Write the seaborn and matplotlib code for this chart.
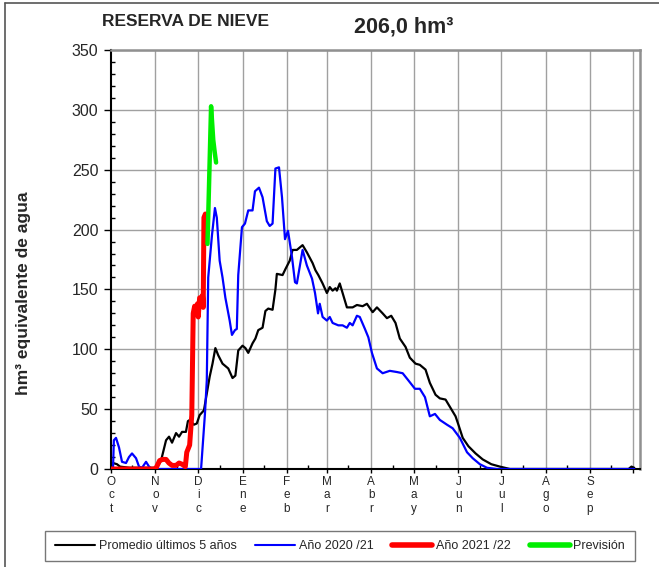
import matplotlib
matplotlib.use("Agg")
import matplotlib.pyplot as plt
import seaborn as sns
import pandas as pd
from matplotlib.lines import Line2D
from matplotlib.ticker import FixedLocator, MultipleLocator

# ---------------- data (day index from 1 Oct, value in hm3) ----------------
black_days = [0, 1.4, 4.2, 6.3, 13, 20, 27, 32, 35, 38.5, 40.6, 42.7, 45.5, 47.6, 49.7,
              52.4, 53.8, 55.2, 58, 60, 62, 65, 67, 69, 71, 73, 75, 78, 82, 85, 87, 89,
              92, 94, 96, 99, 101, 103, 106, 108, 110, 113, 115, 116, 120, 122, 125, 127,
              130, 132, 134, 137, 141, 143, 145, 148, 151, 153, 155, 157, 158, 160, 162,
              165, 169, 172, 176, 179, 183, 186, 190, 193, 196, 199, 202, 206, 209, 213,
              216, 220, 223, 227, 230, 234, 237, 241, 243, 246, 250, 255, 260, 266, 272,
              279, 362, 364, 366]
black_vals = [0, 5, 4, 2, 1, 1, 1, 1, 7, 24, 27, 22, 30, 27, 31,
              31, 40, 41, 37, 38, 45, 49, 63, 77, 88, 101, 95, 88, 84, 76, 78, 99,
              103, 101, 97, 105, 109, 116, 118, 132, 134, 133, 150, 163, 162, 167, 174, 183,
              183, 185, 187, 181, 172, 166, 162, 155, 147, 152, 149, 151, 149, 155, 147,
              135, 135, 137, 136, 138, 131, 135, 130, 126, 128, 122, 109, 102, 93, 88,
              87, 83, 72, 62, 59, 58, 52, 44, 37, 26, 19, 13, 8, 4, 2,
              0, 0, 2, 1]

blue_days = [0, 1.4, 2, 3.5, 5.6, 7.7, 10.5, 12.6, 14.7, 17.5, 19.6, 21.7, 24.5, 26.6,
             28.7, 63, 65.7, 67, 68, 70.6, 72.7, 74, 76, 78, 80, 83, 84.6, 86.7, 88, 89,
             91.6, 93.7, 96, 99, 100.7, 103.5, 106, 109, 111, 113, 115, 117.5, 119.6,
             121.7, 123.8, 126.6, 128.7, 130, 132, 134, 137, 140.6, 142.7, 144.8, 146,
             148, 151, 153, 155, 159, 162, 165, 167, 169, 172, 174, 177.6, 180, 182.5,
             186, 190, 195, 200, 204, 208, 212.6, 216, 219.6, 223, 226.6, 230, 235, 239,
             244, 249, 253, 258, 263, 270, 366]
blue_vals = [0, 0, 24, 26, 18, 6, 5, 10, 13, 9, 2, 1, 6, 2,
             0, 0, 46, 74, 160, 195, 218, 210, 174, 160, 143, 124, 112, 116, 117, 162,
             202, 205, 216, 216, 232, 235, 227, 207, 203, 205, 251, 252, 227,
             192, 199, 177, 156, 155, 169, 183, 170, 159, 147, 130, 138,
             127, 124, 127, 122, 120, 120, 118, 122, 120, 128, 127, 117, 110, 97,
             84, 80, 82, 81, 80, 74, 67, 67, 60, 44, 46, 41, 37, 34,
             26, 14, 9, 4, 1, 0, 0]

red_days = [0, 31, 32, 34, 36, 38.5, 40.5, 42.7, 45.5, 47.6, 49.7, 52, 53, 55, 56.5,
            57.5, 58.5, 59.5, 60.5, 61, 62, 63, 64, 64.5, 65, 66]
red_vals = [0, 0, 2, 7, 8, 8, 5, 3, 3, 5, 4, 2, 14, 20, 45,
            130, 136, 132, 138, 127, 143, 141, 145, 135, 210, 213]

green_days = [67.5, 70, 71.5, 72.5, 73.5]
green_vals = [188, 303, 275, 265, 256]

month_starts = [0, 31, 61, 92, 123, 151, 182, 212, 243, 273, 304, 335, 365]
month_labels = ["Oct", "Nov", "Dic", "Ene", "Feb", "Mar", "Abr", "May", "Jun", "Jul",
                "Ago", "Sep", ""]
legend_labels = ["Promedio últimos 5 años", "Año 2020 /21", "Año 2021 /22", "Previsión"]
title_text = "RESERVA DE NIEVE"
value_text = "206,0 hm³"
ylabel_text = "hm³ equivalente de agua"

# ---------------- style ----------------
sns.set_style("white")
plt.rcParams["font.family"] = ["Liberation Sans", "DejaVu Sans"]

W, H = 659, 567
fig = plt.figure(figsize=(W / 100, H / 100), dpi=100)
ax = fig.add_axes([111 / W, 1 - 469 / H, (640 - 111) / W, (469 - 50) / H])

df_b = pd.DataFrame({"day": black_days, "val": black_vals})
df_u = pd.DataFrame({"day": blue_days, "val": blue_vals})
df_r = pd.DataFrame({"day": red_days, "val": red_vals})
df_g = pd.DataFrame({"day": green_days, "val": green_vals})

sns.lineplot(data=df_b, x="day", y="val", ax=ax, color="black", linewidth=1.6,
             sort=False, estimator=None, zorder=3)
sns.lineplot(data=df_u, x="day", y="val", ax=ax, color="#0000ff", linewidth=1.6,
             sort=False, estimator=None, zorder=4)
sns.lineplot(data=df_r, x="day", y="val", ax=ax, color="#ff0000", linewidth=3.6,
             sort=False, estimator=None, zorder=5)
sns.lineplot(data=df_g, x="day", y="val", ax=ax, color="#00ee00", linewidth=3.2,
             sort=False, estimator=None, zorder=5)

ax.set_xlim(0, 370)
ax.set_ylim(0, 350)

# grid
for d in month_starts[1:]:
    ax.axvline(d, color="#a0a0a0", lw=1.0, zorder=1)
for v in range(50, 351, 50):
    ax.axhline(v, color="#a0a0a0", lw=1.0, zorder=1)

# ticks
ax.yaxis.set_major_locator(MultipleLocator(50))
ax.yaxis.set_minor_locator(MultipleLocator(10))
ax.tick_params(axis="y", which="major", direction="out", length=5, width=1,
               labelsize=11.5, pad=4, color="black", left=True)
ax.tick_params(axis="y", which="minor", direction="in", length=3, width=1,
               color="black", left=True)
ax.xaxis.set_major_locator(FixedLocator(month_starts))
ax.xaxis.set_minor_locator(FixedLocator([m + 15 for m in month_starts[:-1]]))
ax.set_xticklabels(["\n".join(list(s)) for s in month_labels], fontsize=8.5,
                   linespacing=1.15, va="top")
ax.tick_params(axis="x", which="major", direction="out", length=3, width=1,
               pad=2, color="black", bottom=True)
ax.tick_params(axis="x", which="minor", direction="in", length=3, width=1,
               color="black", bottom=True)

ax.set_xlabel("")
ax.set_ylabel(ylabel_text, fontsize=12.5, fontweight="bold")
ax.yaxis.set_label_coords(-0.152, 0.42)

for s in ["left", "bottom"]:
    ax.spines[s].set_color("black")
    ax.spines[s].set_linewidth(1.5)
for s in ["top", "right"]:
    ax.spines[s].set_color("#909090")
    ax.spines[s].set_linewidth(1.8)
for s in ax.spines.values():
    s.set_visible(True)

# titles
fig.text(186 / W, 1 - 22 / H, title_text, fontsize=12.5, fontweight="bold",
         ha="center", va="center")
fig.text(404 / W, 1 - 27 / H, value_text, fontsize=15.5, fontweight="bold",
         ha="center", va="center")

# legend
handles = [Line2D([], [], color="black", lw=1.5),
           Line2D([], [], color="#0000ff", lw=1.5),
           Line2D([], [], color="#ff0000", lw=4),
           Line2D([], [], color="#00ee00", lw=4)]
leg = fig.legend(handles, legend_labels, loc="center", ncol=4,
                 bbox_to_anchor=(340 / W, 1 - 546 / H), frameon=True, fancybox=False,
                 fontsize=9, handlelength=3.2, handletextpad=0.3, columnspacing=1.5,
                 borderpad=0.75)
leg.get_frame().set_edgecolor("#555555")
leg.get_frame().set_linewidth(1.0)
if ax.get_legend() is not None:
    ax.get_legend().remove()

# outer frame lines (left and top)
fig.add_artist(Line2D([5 / W, 5 / W], [0, 1 - 3 / H], color="#555555", lw=1.2,
                      transform=fig.transFigure))
fig.add_artist(Line2D([5 / W, 1], [1 - 3 / H, 1 - 3 / H], color="#555555", lw=1.2,
                      transform=fig.transFigure))

fig.savefig("out.png", dpi=100, facecolor="white")
